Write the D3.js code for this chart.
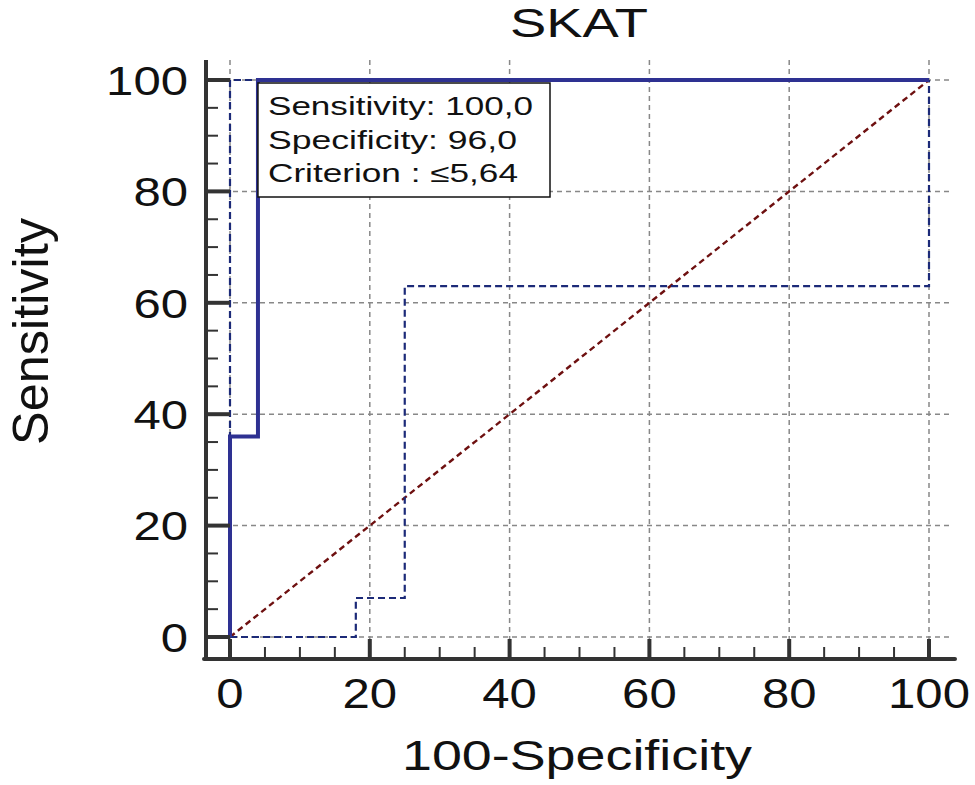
<!DOCTYPE html>
<html><head><meta charset="utf-8">
<script src="https://cdn.jsdelivr.net/npm/d3@7"></script>
<style>body{margin:0;background:#fff}svg{display:block;font-family:"Liberation Sans",Arial,sans-serif}</style>
</head><body>
<svg id="c" width="975" height="785"></svg>
<script>
const title = "SKAT";
const xLabel = "100-Specificity";
const yLabel = "Sensitivity";
const majorTicks = [0, 20, 40, 60, 80, 100];
const minorTicks = [5,10,15,25,30,35,45,50,55,65,70,75,85,90,95];
// ROC curve
const rocX = [0, 0, 4, 4, 100];
const rocY = [0, 36, 36, 100, 100];
// lower confidence bound
const loX = [0, 18, 18, 25, 25, 100, 100];
const loY = [0, 0, 7, 7, 63, 63, 100];
// upper confidence bound
const upX = [0, 0, 100];
const upY = [0, 100, 100];
// diagonal reference
const diagX = [0, 100];
const diagY = [0, 100];
const infoLines = ["Sensitivity: 100,0", "Specificity: 96,0", "Criterion : \u22645,64"];

const svg = d3.select("#c");
const x = d3.scaleLinear().domain([0,100]).range([230,929]);
const y = d3.scaleLinear().domain([0,100]).range([637,80]);
const axisX = 206, axisY = 659;

// grid
const g = svg.append("g").attr("stroke","#888").attr("stroke-width",1.5).attr("stroke-dasharray","5,4");
majorTicks.forEach(t=>{
  g.append("line").attr("x1",x(t)).attr("x2",x(t)).attr("y1",60).attr("y2",axisY);
  g.append("line").attr("x1",axisX).attr("x2",950).attr("y1",y(t)).attr("y2",y(t));
});

const line = d3.line().x(d=>x(d[0])).y(d=>y(d[1]));
const zip = (a,b)=>a.map((v,i)=>[v,b[i]]);

svg.append("path").attr("d",line(zip(diagX,diagY))).attr("fill","none")
  .attr("stroke","#6e1010").attr("stroke-width",2.4).attr("stroke-dasharray","6,4");
svg.append("path").attr("d",line(zip(loX,loY))).attr("fill","none")
  .attr("stroke","#1c2a78").attr("stroke-width",2.2).attr("stroke-dasharray","7,4");
svg.append("path").attr("d",line(zip(upX,upY))).attr("fill","none")
  .attr("stroke","#1c2a78").attr("stroke-width",2.2).attr("stroke-dasharray","7,4");
svg.append("path").attr("d",line(zip(rocX,rocY))).attr("fill","none")
  .attr("stroke","#2e3192").attr("stroke-width",4);

// axes
const ax = svg.append("g").attr("stroke","#333");
ax.append("line").attr("x1",axisX).attr("x2",axisX).attr("y1",60).attr("y2",axisY+2).attr("stroke-width",4);
ax.append("line").attr("x1",axisX-2).attr("x2",955).attr("y1",axisY).attr("y2",axisY).attr("stroke-width",4).attr("stroke-linecap","round");
majorTicks.forEach(t=>{
  ax.append("line").attr("x1",axisX).attr("x2",axisX+24).attr("y1",y(t)).attr("y2",y(t)).attr("stroke-width",4);
  ax.append("line").attr("x1",x(t)).attr("x2",x(t)).attr("y1",axisY).attr("y2",axisY-20).attr("stroke-width",4);
});
minorTicks.forEach(t=>{
  ax.append("line").attr("x1",axisX).attr("x2",axisX+12).attr("y1",y(t)).attr("y2",y(t)).attr("stroke-width",2);
  ax.append("line").attr("x1",x(t)).attr("x2",x(t)).attr("y1",axisY).attr("y2",axisY-12).attr("stroke-width",2);
});

// tick labels
const lenPerChar = 27.3;
majorTicks.forEach(t=>{
  const s = String(t), L = s.length*lenPerChar;
  svg.append("text").attr("x",188-L).attr("y",y(t)).attr("dy","0.36em")
    .attr("font-size",41).attr("fill","#111")
    .attr("textLength",L).attr("lengthAdjust","spacingAndGlyphs").text(s);
  svg.append("text").attr("x",x(t)-L/2).attr("y",708)
    .attr("font-size",42).attr("fill","#111")
    .attr("textLength",L).attr("lengthAdjust","spacingAndGlyphs").text(s);
});

// info box
svg.append("rect").attr("x",x(4)).attr("y",83).attr("width",550-x(4)).attr("height",114)
  .attr("fill","#fff").attr("stroke","#111").attr("stroke-width",1.5);
const infoLens = [265, 249, 250];
const infoBase = [115, 148.5, 182];
infoLines.forEach((s,i)=>{
  svg.append("text").attr("x",268).attr("y",infoBase[i]).attr("font-size",25.5).attr("fill","#111")
    .attr("textLength",infoLens[i]).attr("lengthAdjust","spacingAndGlyphs").text(s);
});

// titles
svg.append("text").attr("x",510).attr("y",37).attr("font-size",40).attr("fill","#111")
  .attr("textLength",138).attr("lengthAdjust","spacingAndGlyphs").text(title);
svg.append("text").attr("x",402).attr("y",770).attr("font-size",42).attr("fill","#111")
  .attr("textLength",350).attr("lengthAdjust","spacingAndGlyphs").text(xLabel);
svg.append("text").attr("transform","translate(48,445) rotate(-90)").attr("font-size",50).attr("fill","#111")
  .attr("textLength",227).attr("lengthAdjust","spacingAndGlyphs").text(yLabel);
</script>
</body></html>
